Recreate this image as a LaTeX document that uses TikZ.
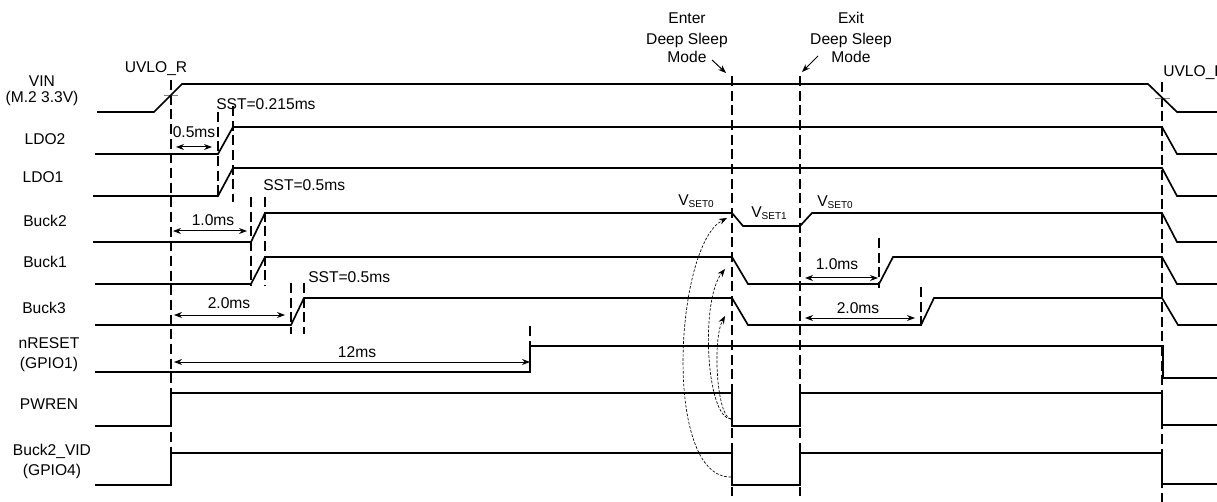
\documentclass[tikz,border=0pt]{standalone}
\usepackage{fontspec}
\setmainfont{Liberation Sans}
\usetikzlibrary{arrows.meta}
\newcommand\vsetlbl[1]{V\raisebox{-1.5pt}{\fontsize{7.5}{9}\selectfont SET#1}}
\begin{document}
\begin{tikzpicture}[x=0.75pt,y=-0.75pt,
  sig/.style={line width=1.25pt, line join=miter},
  ldash/.style={line width=1.15pt, dash pattern=on 7.5pt off 3.5pt},
  dimarrow/.style={{Stealth[length=6pt,width=4.5pt]}-{Stealth[length=6pt,width=4.5pt]}, line width=0.75pt},
  curvarrow/.style={-{Stealth[length=6pt,width=4.5pt]}, line width=0.5pt, dash pattern=on 2pt off 1.2pt},
  ptr/.style={-{Stealth[length=6pt,width=4.5pt]}, line width=0.75pt},
  lbl/.style={font=\fontsize{11.7}{14.6}\selectfont, inner sep=0pt, anchor=base},
  tickmark/.style={line width=0.6pt, gray}]
\useasboundingbox (0,0) rectangle (1217,502);

% signal names
\node[lbl] (lvin) at (42,87) {VIN};
\node[lbl] (lvinb) at (42,103) {(M.2 3.3V)};
\node[lbl] (lldo2) at (45,145) {LDO2};
\node[lbl] (lldo1) at (43,183) {LDO1};
\node[lbl] (lbuck2) at (45,227) {Buck2};
\node[lbl] (lbuck1) at (45,268) {Buck1};
\node[lbl] (lbuck3) at (44,313) {Buck3};
\node[lbl] (lnrst) at (49,348) {nRESET};
\node[lbl] (lnrstb) at (49,368) {(GPIO1)};
\node[lbl] (lpwren) at (49,409) {PWREN};
\node[lbl] (lvid) at (52,455) {Buck2\_VID};
\node[lbl] (lvidb) at (52,475) {(GPIO4)};

% long dashed markers
\draw[ldash] (171,80) -- (171,488);
\draw[ldash] (732,76) -- (732,496);
\draw[ldash] (800,76) -- (800,496);
\draw[ldash] (1162,82) -- (1162,505);

% short dashed markers
\draw[ldash] (218,112) -- (218,200);
\draw[ldash] (233,106) -- (233,202);
\draw[ldash] (251,197) -- (251,286);
\draw[ldash] (265,197) -- (265,286);
\draw[ldash] (291,283) -- (291,334);
\draw[ldash] (304,283) -- (304,334);
\draw[ldash] (530,326) -- (530,346);
\draw[ldash] (879,238) -- (879,288);
\draw[ldash] (921,287) -- (921,331);

% UVLO ticks
\draw[tickmark] (164,95) -- (178,95);
\draw[tickmark] (1155,98) -- (1170,98);

% waveforms
\draw[sig] (97,112) -- (154,112) -- (182,84) -- (1148,84) -- (1177,112) -- (1217,112);
\draw[sig] (95,154) -- (218,154) -- (233,127) -- (1162,127) -- (1177,154) -- (1217,154);
\draw[sig] (93,196) -- (218,196) -- (233,168) -- (1162,168) -- (1177,196) -- (1217,196);
\draw[sig] (93,242) -- (251,242) -- (265,213) -- (732,213) -- (743,226) -- (800,226) -- (812,213) -- (1162,213) -- (1177,242) -- (1217,242);
\draw[sig] (95,284) -- (251,284) -- (265,257) -- (732,257) -- (748,284) -- (879,284) -- (893,257) -- (1162,257) -- (1177,284) -- (1217,284);
\draw[sig] (95,325) -- (291,325) -- (304,298) -- (732,298) -- (748,325) -- (921,325) -- (934,298) -- (1162,298) -- (1178,325) -- (1217,325);
\draw[sig] (95,372) -- (530,372) -- (530,346) -- (1163,346) -- (1163,378) -- (1217,378);
\draw[sig] (95,426) -- (171,426) -- (171,393) -- (732,393) -- (732,426) -- (800,426) -- (800,393) -- (1162,393) -- (1162,425) -- (1217,425);
\draw[sig] (95,485) -- (171,485) -- (171,453) -- (732,453) -- (732,485) -- (800,485) -- (800,453) -- (1162,453) -- (1162,484) -- (1217,484);

% dimension arrows
\draw[dimarrow] (176,147) -- (212,147);
\draw[dimarrow] (173,231) -- (247,231);
\draw[dimarrow] (174,315) -- (285,315);
\draw[dimarrow] (174,362) -- (530,362);
\draw[dimarrow] (805,278) -- (878,278);
\draw[dimarrow] (805,318) -- (915,318);

% timing labels
\node[lbl, anchor=base west] (sst1) at (216,110) {SST=0.215ms};
\node[lbl] (t05) at (194,138) {0.5ms};
\node[lbl, anchor=base west] (sst2) at (263,191) {SST=0.5ms};
\node[lbl] (t10a) at (213,226) {1.0ms};
\node[lbl] (t20a) at (229,308) {2.0ms};
\node[lbl, anchor=base west] (sst3) at (308,282) {SST=0.5ms};
\node[lbl] (t12) at (357,357) {12ms};
\node[lbl] (t10b) at (837,270) {1.0ms};
\node[lbl] (t20b) at (858,313) {2.0ms};
\node[lbl] (uvr) at (156,73) {UVLO\_R};
\node[lbl, anchor=base west] (uvf) at (1163,77) {UVLO\_F};

% deep sleep annotations
\node[lbl] (en1) at (687,24) {Enter};
\node[lbl] (en2) at (687,45) {Deep Sleep};
\node[lbl] (en3) at (687,63) {Mode};
\node[lbl] (ex1) at (851,24) {Exit};
\node[lbl] (ex2) at (851,45) {Deep Sleep};
\node[lbl] (ex3) at (851,63) {Mode};
\coordinate (entip) at (726,73);
\coordinate (extip) at (802,72);
\draw[ptr] (712,60) -- (entip);
\draw[ptr] (818,56) -- (extip);

% VSET labels
\node[lbl, anchor=base west] (vs0a) at (678,206) {\vsetlbl{0}};
\node[lbl, anchor=base west] (vs1) at (751,218) {\vsetlbl{1}};
\node[lbl, anchor=base west] (vs0b) at (817,207) {\vsetlbl{0}};

% causal curved arrows
\draw[curvarrow] (731,477) .. controls (662,478) and (675,245) .. (727,218);
\draw[curvarrow] (731,419) .. controls (706,418) and (700,300) .. (725,269);
\draw[curvarrow] (731,419) .. controls (717,418) and (712,340) .. (725,316);
\end{tikzpicture}
\end{document}
